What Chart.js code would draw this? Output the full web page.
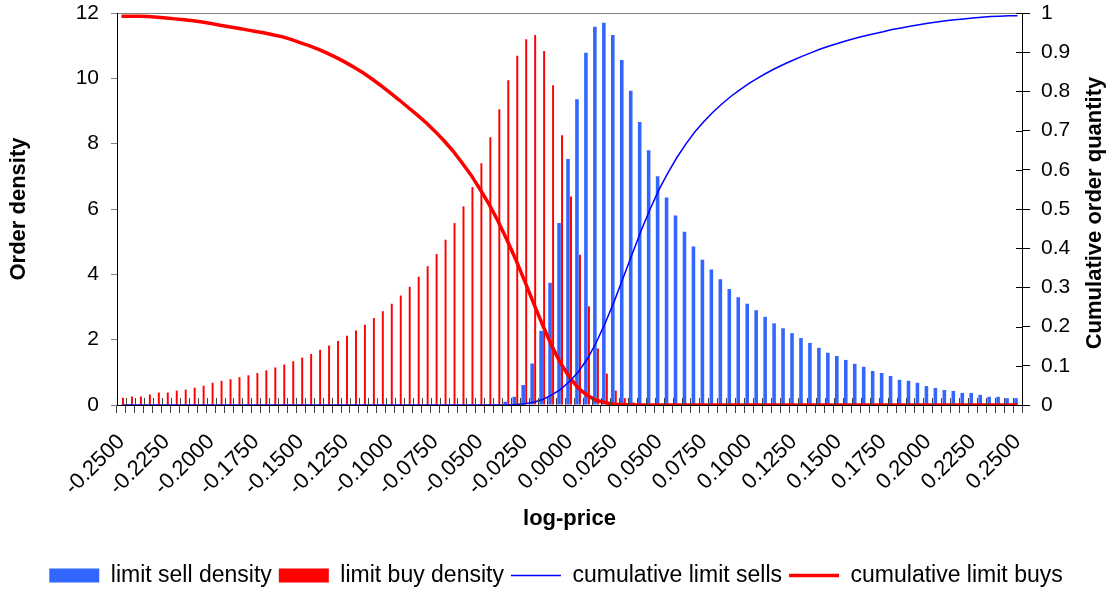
<!DOCTYPE html>
<html><head><meta charset="utf-8">
<script src="https://cdn.jsdelivr.net/npm/chart.js@4/dist/chart.umd.min.js"></script>
<style>html,body{margin:0;padding:0;background:#fff}#wrap{width:1112px;height:597px}</style>
</head><body><div id="wrap"><canvas id="c" width="1112" height="597"></canvas></div>
<script>
const categories = [
"-0.2500","-0.2450","-0.2400","-0.2350","-0.2300","-0.2250","-0.2200","-0.2150","-0.2100","-0.2050",
"-0.2000","-0.1950","-0.1900","-0.1850","-0.1800","-0.1750","-0.1700","-0.1650","-0.1600","-0.1550",
"-0.1500","-0.1450","-0.1400","-0.1350","-0.1300","-0.1250","-0.1200","-0.1150","-0.1100","-0.1050",
"-0.1000","-0.0950","-0.0900","-0.0850","-0.0800","-0.0750","-0.0700","-0.0650","-0.0600","-0.0550",
"-0.0500","-0.0450","-0.0400","-0.0350","-0.0300","-0.0250","-0.0200","-0.0150","-0.0100","-0.0050",
"0.0000","0.0050","0.0100","0.0150","0.0200","0.0250","0.0300","0.0350","0.0400","0.0450",
"0.0500","0.0550","0.0600","0.0650","0.0700","0.0750","0.0800","0.0850","0.0900","0.0950",
"0.1000","0.1050","0.1100","0.1150","0.1200","0.1250","0.1300","0.1350","0.1400","0.1450",
"0.1500","0.1550","0.1600","0.1650","0.1700","0.1750","0.1800","0.1850","0.1900","0.1950",
"0.2000","0.2050","0.2100","0.2150","0.2200","0.2250","0.2300","0.2350","0.2400","0.2450",
"0.2500"];

const sellDensity = [
0,0,0,0,0,0,0,0,0,0,
0,0,0,0,0,0,0,0,0,0,
0,0,0,0,0,0,0,0,0,0,
0,0,0,0,0,0,0,0,0,0,
0,0.01,0.03,0.10,0.25,0.61,1.27,2.27,3.74,5.57,
7.53,9.36,10.78,11.58,11.70,11.33,10.56,9.62,8.66,7.80,
7.00,6.35,5.80,5.30,4.85,4.45,4.15,3.85,3.55,3.30,
3.10,2.90,2.70,2.50,2.35,2.20,2.05,1.90,1.75,1.60,
1.50,1.38,1.26,1.17,1.04,0.98,0.89,0.77,0.74,0.68,
0.58,0.52,0.46,0.43,0.37,0.37,0.31,0.25,0.25,0.21,
0.21];

const buyDensity = [
0.22,0.26,0.26,0.32,0.38,0.38,0.44,0.47,0.53,0.59,
0.68,0.74,0.79,0.85,0.91,0.98,1.06,1.15,1.24,1.34,
1.45,1.56,1.69,1.82,1.96,2.12,2.28,2.46,2.66,2.87,
3.10,3.35,3.62,3.93,4.25,4.62,5.06,5.57,6.08,6.67,
7.40,8.20,9.05,9.94,10.69,11.20,11.33,10.84,9.79,8.26,
6.38,4.60,3.02,1.73,0.96,0.44,0.21,0.08,0.03,0.01,
0,0,0,0,0,0,0,0,0,0,
0,0,0,0,0,0,0,0,0,0,
0,0,0,0,0,0,0,0,0,0,
0,0,0,0,0,0,0,0,0,0,
0];

const cumSells = [
0,0,0,0,0,0,0,0,0,0,
0,0,0,0,0,0,0,0,0,0,
0,0,0,0,0,0,0,0,0,0,
0,0,0,0,0,0,0,0,0,0,
0,0,0,0,0.001,0.003,0.007,0.014,0.025,0.040,
0.060,0.085,0.118,0.160,0.210,0.265,0.325,0.385,0.445,0.500,
0.550,0.593,0.632,0.666,0.697,0.723,0.747,0.768,0.787,0.804,
0.820,0.834,0.847,0.859,0.870,0.880,0.890,0.899,0.908,0.916,
0.923,0.930,0.936,0.942,0.947,0.952,0.958,0.962,0.966,0.970,
0.974,0.977,0.980,0.983,0.985,0.987,0.989,0.991,0.992,0.993,
0.993];

const cumBuys = [
0.992,0.992,0.992,0.991,0.989,0.987,0.985,0.983,0.980,0.977,
0.973,0.969,0.965,0.961,0.957,0.953,0.949,0.944,0.939,0.932,
0.924,0.916,0.907,0.897,0.886,0.874,0.861,0.847,0.831,0.814,
0.796,0.778,0.759,0.740,0.720,0.698,0.674,0.648,0.618,0.587,
0.551,0.513,0.470,0.422,0.371,0.316,0.259,0.204,0.152,0.107,
0.071,0.043,0.024,0.012,0.006,0.002,0.001,0,0,0,
0,0,0,0,0,0,0,0,0,0,
0,0,0,0,0,0,0,0,0,0,
0,0,0,0,0,0,0,0,0,0,
0,0,0,0,0,0,0,0,0,0,
0];

const seriesNames = ["limit sell density","limit buy density","cumulative limit sells","cumulative limit buys"];
const axisTitles = {x: "log-price", y: "Order density", y2: "Cumulative order quantity"};
const labelEvery = 5;

const FONT = "'Liberation Sans', Arial, Helvetica, sans-serif";

const extras = {
  id: 'extras',
  afterDatasetsDraw(chart) {
    const ctx = chart.ctx, x = chart.scales.x, y2 = chart.scales.y2, area = chart.chartArea;
    ctx.save();
    ctx.strokeStyle = '#404040'; ctx.lineWidth = 1;
    const n = chart.data.labels.length;
    const step = (area.right - area.left) / n;
    ctx.beginPath();
    for (let i = 1; i < n; i++) {
      const px = Math.round(x.getPixelForValue(i) - step / 2) + 0.5;
      ctx.moveTo(px, area.bottom - 7); ctx.lineTo(px, area.bottom);
    }
    ctx.stroke();
    ctx.strokeStyle = '#000';
    ctx.beginPath();
    y2.ticks.forEach(t => {
      const py = Math.round(y2.getPixelForValue(t.value)) + 0.5;
      ctx.moveTo(area.right - 6, py); ctx.lineTo(area.right, py);
    });
    ctx.stroke();
    ctx.restore();
  },
  afterDraw(chart) {
    const ctx = chart.ctx, area = chart.chartArea;
    ctx.save();
    ctx.font = "bold 22px " + FONT;
    ctx.fillStyle = '#000';
    ctx.textAlign = 'center'; ctx.textBaseline = 'middle';
    ctx.translate(chart.width - 17, (area.top + area.bottom) / 2 + 4);
    ctx.rotate(-Math.PI / 2);
    ctx.fillText(axisTitles.y2, 0, 0);
    ctx.restore();
  }
};

const noVPad = s => { s.paddingTop = 0; s.paddingBottom = 0; };

new Chart(document.getElementById('c'), {
  type: 'bar',
  data: {
    labels: categories,
    datasets: [
      {type: 'bar', label: seriesNames[0], data: sellDensity, backgroundColor: '#3366FF', yAxisID: 'y', order: 3, categoryPercentage: 0.67, barPercentage: 1.2},
      {type: 'bar', label: seriesNames[1], data: buyDensity, backgroundColor: '#FF0000', yAxisID: 'y', order: 3, categoryPercentage: 0.67, barPercentage: 0.65},
      {type: 'line', label: seriesNames[2], data: cumSells, borderColor: '#0000FF', backgroundColor: '#0000FF', borderWidth: 1.5, pointRadius: 0, yAxisID: 'y2', order: 1, fill: false},
      {type: 'line', label: seriesNames[3], data: cumBuys, borderColor: '#FF0000', backgroundColor: '#FF0000', borderWidth: 3.5, pointRadius: 0, yAxisID: 'y2', order: 2, fill: false}
    ]
  },
  options: {
    responsive: false, animation: false, devicePixelRatio: 1,
    layout: {padding: {top: 13, left: 0, right: 0, bottom: 0}},
    plugins: {
      tooltip: {enabled: false},
      legend: {
        position: 'bottom',
        labels: {
          usePointStyle: true, pointStyleWidth: 50, boxHeight: 14,
          font: {family: FONT, size: 23}, color: '#000', padding: 7,
          generateLabels(chart) {
            return chart.data.datasets.map((ds, i) => ({
              text: ds.label,
              fillStyle: ds.backgroundColor,
              strokeStyle: ds.borderColor || ds.backgroundColor,
              lineWidth: ds.type === 'line' ? ds.borderWidth : 0,
              pointStyle: ds.type === 'line' ? 'line' : 'rect',
              hidden: false, datasetIndex: i, fontColor: '#000'
            }));
          }
        }
      }
    },
    scales: {
      x: {
        type: 'category', offset: true,
        grid: {display: true, drawOnChartArea: false, drawTicks: true, tickLength: 8, tickColor: '#404040', offset: true},
        border: {color: '#000', width: 1},
        ticks: {autoSkip: false, maxRotation: 45, minRotation: 45, color: '#000', font: {family: FONT, size: 22}, padding: 16,
          callback: (v, i) => (i % labelEvery === 0 ? categories[i] : '')},
        title: {display: true, text: axisTitles.x, color: '#000', font: {family: FONT, size: 22, weight: 'bold'}, padding: {top: 0, bottom: 25}},
        afterFit: s => { s.height = 152; }
      },
      y: {
        position: 'left', min: 0, max: 12,
        ticks: {stepSize: 2, color: '#000', font: {family: FONT, size: 21}, padding: 12},
        grid: {drawOnChartArea: true, drawTicks: true, tickLength: 6, tickColor: '#808080',
          color: c => (c.tick && c.tick.value === 12 ? '#808080' : 'rgba(0,0,0,0)')},
        border: {color: '#000', width: 1},
        title: {display: true, text: axisTitles.y, color: '#000', font: {family: FONT, size: 22, weight: 'bold'}, padding: {top: 6, bottom: 0}},
        afterFit: s => { s.width = 117; noVPad(s); }
      },
      y2: {
        position: 'right', min: 0, max: 1,
        ticks: {stepSize: 0.1, color: '#000', font: {family: FONT, size: 21}, padding: 11,
          callback: v => String(Number(Number(v).toFixed(1)))},
        grid: {drawOnChartArea: false, drawTicks: true, tickLength: 8, tickColor: '#000'},
        border: {color: '#000', width: 1},
        afterFit: s => { s.width = 90; noVPad(s); }
      }
    }
  },
  plugins: [extras]
});
</script>
</body></html>
